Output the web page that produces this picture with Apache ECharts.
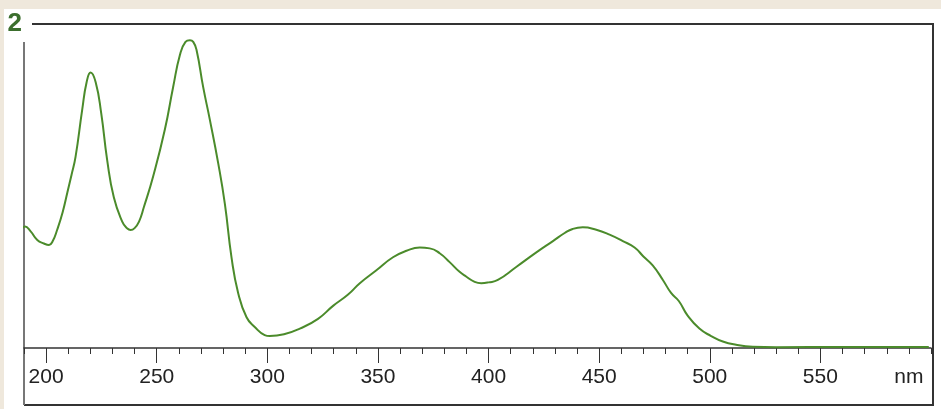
<!DOCTYPE html>
<html>
<head>
<meta charset="utf-8">
<script src="https://cdn.jsdelivr.net/npm/echarts@6/dist/echarts.min.js"></script>
<style>
html, body { margin: 0; padding: 0; background: #efe8dc; }
#panel { position: absolute; left: 4px; top: 9px; width: 937px; height: 400px; background: #fff; }
#spectrum { position: absolute; left: 0; top: 0; width: 941px; height: 409px; }
</style>
</head>
<body>
<div id="panel"></div>
<div id="spectrum"></div>
<script>
// wavelength (nm) and absorbance
var wavelength = [188, 190.5, 193, 196, 199, 201.3, 203, 205, 207.5, 209.6, 211.5, 213.3, 216.3, 218.3, 220.1, 222.4, 224.9, 227.6, 230.6, 234.4, 236.5, 238.2, 240, 242, 244.2, 248.4, 253.7, 257.4, 260.5, 263, 265, 266.5, 268, 271, 274, 277.8, 280.8, 283.8, 286.8, 290.6, 294.3, 298.8, 301.1, 307.9, 314.7, 322.9, 329.7, 336.5, 341.8, 349.3, 356.8, 362.9, 368.9, 373.4, 377.9, 382.4, 386.9, 390, 393.5, 396.7, 400, 404.2, 412.5, 421.6, 429.1, 434.4, 438, 442.6, 448.7, 454.7, 460.7, 466, 470, 474.2, 478.8, 482.5, 486, 490, 495.3, 500.6, 505.9, 511.9, 519.4, 530, 560, 599];
var absorbance = [0.70, 0.75, 0.72, 0.667, 0.645, 0.636, 0.66, 0.73, 0.84, 0.96, 1.07, 1.18, 1.47, 1.64, 1.70, 1.64, 1.45, 1.16, 0.93, 0.78, 0.74, 0.728, 0.74, 0.78, 0.87, 1.06, 1.35, 1.61, 1.81, 1.89, 1.90, 1.89, 1.84, 1.61, 1.41, 1.14, 0.89, 0.56, 0.34, 0.19, 0.13, 0.08, 0.074, 0.086, 0.12, 0.18, 0.26, 0.33, 0.40, 0.48, 0.56, 0.60, 0.62, 0.615, 0.585, 0.53, 0.47, 0.44, 0.41, 0.40, 0.405, 0.42, 0.50, 0.59, 0.66, 0.71, 0.735, 0.745, 0.73, 0.70, 0.66, 0.62, 0.565, 0.51, 0.42, 0.34, 0.29, 0.20, 0.12, 0.074, 0.04, 0.02, 0.008, 0.005, 0.006, 0.006];
var majorTicks = [200, 250, 300, 350, 400, 450, 500, 550];
var labelValues = [200, 250, 300, 350, 400, 450, 500, 550, 590];
var unitLabel = 'nm';
var yTop = 2;

var points = [];
for (var i = 0; i < wavelength.length; i++) {
    points.push([wavelength[i], absorbance[i]]);
}

var dom = document.getElementById("spectrum");
var myChart = echarts.init(dom);
var option = {
    animation: false,
    grid: { left: 24, right: 10, top: 24, bottom: 61 },
    xAxis: [
        {
            type: 'value',
            min: 190,
            max: 600,
            interval: 10,
            position: 'bottom',
            axisLine: { show: true, lineStyle: { color: '#333', width: 1.5 } },
            axisTick: { show: true, length: 6, lineStyle: { color: '#333', width: 1 } },
            axisLabel: { show: false },
            splitLine: { show: false }
        },
        {
            type: 'value',
            min: 190,
            max: 600,
            position: 'bottom',
            axisLine: { show: false },
            axisTick: { show: true, length: 15, customValues: majorTicks, lineStyle: { color: '#333', width: 1 } },
            axisLabel: {
                show: true,
                customValues: labelValues,
                margin: 19,
                color: '#222',
                fontSize: 21,
                fontFamily: 'Liberation Sans, Arial, sans-serif',
                formatter: function (v) { return v === 590 ? unitLabel : String(v); }
            },
            splitLine: { show: false }
        }
    ],
    yAxis: {
        type: 'value',
        min: 0,
        max: 2,
        axisLine: { show: false },
        axisTick: { show: false },
        splitLine: { show: false },
        axisLabel: {
            show: true,
            customValues: [yTop],
            margin: 2,
            color: '#3b6e2d',
            fontSize: 26,
            fontWeight: 'bold',
            fontFamily: 'Liberation Sans Narrow, Liberation Sans, Arial, sans-serif'
        }
    },
    graphic: [
        { type: 'polyline', silent: true, shape: { points: [[32, 24], [933, 24], [933, 405], [24, 405]] }, style: { stroke: '#333', lineWidth: 2, fill: null } },
        { type: 'line', silent: true, shape: { x1: 24, y1: 42, x2: 24, y2: 405 }, style: { stroke: '#777', lineWidth: 2 } }
    ],
    series: [
        {
            type: 'line',
            xAxisIndex: 0,
            data: points,
            smooth: 0.5,
            showSymbol: false,
            clip: false,
            lineStyle: { color: '#4b8b2b', width: 2 }
        }
    ]
};
myChart.setOption(option);
</script>
</body>
</html>
